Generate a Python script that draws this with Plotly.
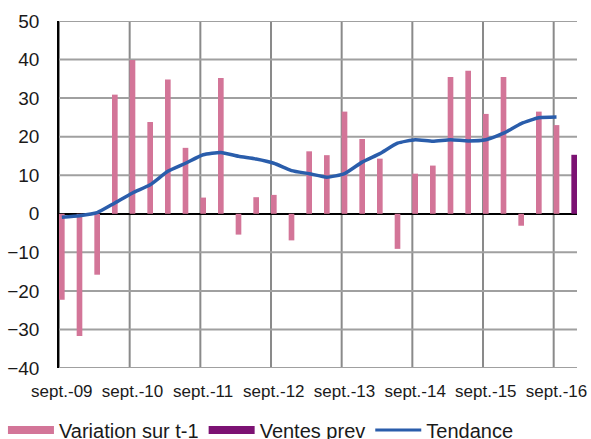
import plotly.graph_objects as go

# ---- data ----
quarters = ["sept.-09", "déc.-09", "mars-10", "juin-10",
            "sept.-10", "déc.-10", "mars-11", "juin-11",
            "sept.-11", "déc.-11", "mars-12", "juin-12",
            "sept.-12", "déc.-12", "mars-13", "juin-13",
            "sept.-13", "déc.-13", "mars-14", "juin-14",
            "sept.-14", "déc.-14", "mars-15", "juin-15",
            "sept.-15", "déc.-15", "mars-16", "juin-16",
            "sept.-16", "déc.-16"]

variation = [-22.3, -31.7, -15.8, 30.9, 39.9, 23.8, 34.8, 17.1,
             4.2, 35.2, -5.4, 4.3, 4.9, -6.9, 16.2, 15.2,
             26.5, 19.4, 14.3, -9.1, 10.4, 12.5, 35.5, 37.1,
             25.9, 35.5, -3.1, 26.5, 23.0, None]

ventes_prev = [None] * 29 + [15.3]

tendance = [-0.9, -0.5, 0.3, 2.8, 5.4, 7.5, 11.0, 13.1,
            15.3, 15.9, 14.9, 14.2, 13.1, 11.2, 10.4, 9.5,
            10.4, 13.4, 15.6, 18.3, 19.2, 18.8, 19.2, 18.9,
            19.2, 20.9, 23.4, 24.9, 25.1, None]

series_names = ["Variation sur t-1", "Ventes prev", "Tendance"]
tick_labels = [q for q in quarters if q.startswith("sept.")]
y_ticks = [-40, -30, -20, -10, 0, 10, 20, 30, 40, 50]

# ---- style ----
FONT = "Liberation Sans, Arial, sans-serif"
PINK = "#D37598"
PURPLE = "#7C1273"
BLUE = "#2A5DAB"
BAR_W = 0.32

fig = go.Figure()
fig.add_trace(go.Bar(x=quarters, y=variation, name=series_names[0], showlegend=False,
                     marker=dict(color=PINK, line=dict(width=0)), width=BAR_W))
fig.add_trace(go.Bar(x=quarters, y=ventes_prev, name=series_names[1], showlegend=False,
                     marker=dict(color=PURPLE, line=dict(width=0)), width=BAR_W))
fig.add_trace(go.Scatter(x=quarters, y=tendance, name=series_names[2], mode="lines",
                         showlegend=False,
                         line=dict(color=BLUE, width=3.5, shape="spline", smoothing=0.5)))

# legend entries (rectangular swatches like the original)
for name, col, w in [(series_names[0], PINK, 8), (series_names[1], PURPLE, 8),
                     (series_names[2], BLUE, 3)]:
    fig.add_trace(go.Scatter(x=[None], y=[None], mode="lines", name=name,
                             line=dict(color=col, width=w), showlegend=True))

# vertical gridlines at the left edge of each September bar
shapes = []
for lab in tick_labels:
    i = quarters.index(lab)
    shapes.append(dict(type="line", xref="x", yref="paper",
                       x0=i - BAR_W / 2, x1=i - BAR_W / 2, y0=0, y1=1,
                       line=dict(color="#8a8a8a", width=2), layer="below"))
# horizontal gridlines
for v in y_ticks:
    if v == 0:
        continue
    shapes.append(dict(type="line", xref="paper", yref="y",
                       x0=0, x1=1, y0=v, y1=v,
                       line=dict(color="#a0a0a0", width=2), layer="below"))

fig.update_layout(
    width=591, height=439,
    margin=dict(l=59, r=14, t=21, b=71),
    paper_bgcolor="white", plot_bgcolor="white",
    barmode="overlay",
    font=dict(family=FONT, color="#1a1a1a"),
    shapes=shapes,
    showlegend=True,
    legend=dict(orientation="h", xref="container", yref="container",
                x=0.005, y=0.065, xanchor="left", yanchor="top",
                font=dict(size=20, family=FONT, color="#1a1a1a"),
                traceorder="normal", itemwidth=46),
)
fig.update_xaxes(type="category", categoryorder="array", categoryarray=quarters,
                 range=[-BAR_W / 2, len(quarters) - 1 + BAR_W / 2],
                 tickmode="array", tickvals=tick_labels, ticktext=tick_labels,
                 showgrid=False, showline=False, zeroline=False,
                 ticks="outside", ticklen=8, tickcolor="rgba(0,0,0,0)",
                 tickfont=dict(size=17, family=FONT, color="#1a1a1a"),
                 automargin=False)
fig.update_yaxes(range=[-40, 50], tickmode="array", tickvals=y_ticks,
                 showgrid=False,
                 zeroline=True, zerolinecolor="black", zerolinewidth=1.5,
                 showline=True, linecolor="black", linewidth=1.5,
                 ticks="outside", ticklen=14, tickcolor="rgba(0,0,0,0)",
                 tickfont=dict(size=19, family=FONT, color="#1a1a1a"),
                 automargin=False)

fig.write_html("out.html", config={"displayModeBar": False},
               post_script="document.body.style.margin='0';document.body.style.overflow='hidden';")
